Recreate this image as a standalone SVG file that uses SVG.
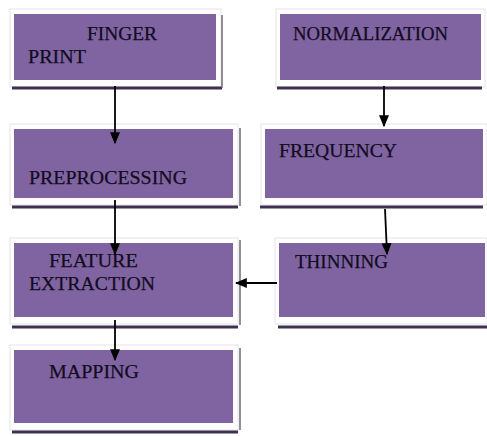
<svg xmlns="http://www.w3.org/2000/svg" width="487" height="436" viewBox="0 0 487 436">
<style>
.frame{fill:#ffffff;stroke:#e4e2e8;stroke-width:1}
.box{fill:#8064a2}
.shadow{stroke:#3f3151;stroke-width:3}
.side{stroke:#6d6a74;stroke-width:1.5}
.lbl{font-family:"Liberation Serif","Times New Roman",serif;font-size:19px;fill:#120c20;stroke:#120c20;stroke-width:0.25}
.conn{stroke:#000;stroke-width:1.8;fill:none}
</style>
<defs>
<marker id="ah" viewBox="0 0 10 10" refX="9" refY="5" markerWidth="12" markerHeight="10" markerUnits="userSpaceOnUse" orient="auto" preserveAspectRatio="none">
<path d="M0,0 L10,5 L0,10 z" fill="#000"/>
</marker>
</defs>
<rect width="487" height="436" fill="#ffffff"/>
<g id="finger-print">
<rect class="frame" x="10" y="9" width="211" height="78"/>
<rect class="box" x="14" y="14" width="202" height="66"/>
<line class="shadow" x1="12" y1="88" x2="222" y2="88"/>
<line class="side" x1="222" y1="15" x2="222" y2="88"/>
<text class="lbl" x="87" y="40" textLength="70" lengthAdjust="spacingAndGlyphs">FINGER</text>
<text class="lbl" x="28" y="63" textLength="58" lengthAdjust="spacingAndGlyphs">PRINT</text>
</g>
<g id="normalization">
<rect class="frame" x="276" y="9" width="209" height="78"/>
<rect class="box" x="280" y="14" width="201" height="66"/>
<line class="shadow" x1="277" y1="88" x2="482" y2="88"/>
<text class="lbl" x="293" y="40" textLength="155" lengthAdjust="spacingAndGlyphs">NORMALIZATION</text>
</g>
<g id="preprocessing">
<rect class="frame" x="10" y="124" width="228" height="81"/>
<rect class="box" x="14" y="129" width="219" height="69"/>
<line class="shadow" x1="12" y1="207" x2="238" y2="207"/>
<line class="side" x1="240" y1="128" x2="240" y2="206"/>
<text class="lbl" x="29" y="184" textLength="158" lengthAdjust="spacingAndGlyphs">PREPROCESSING</text>
</g>
<g id="frequency">
<rect class="frame" x="261" y="124" width="226" height="81"/>
<rect class="box" x="265" y="129" width="218" height="69"/>
<line class="shadow" x1="260" y1="207" x2="483" y2="207"/>
<text class="lbl" x="279" y="157" textLength="118" lengthAdjust="spacingAndGlyphs">FREQUENCY</text>
</g>
<g id="feature-extraction">
<rect class="frame" x="10" y="238" width="228" height="86"/>
<rect class="box" x="14" y="243" width="219" height="74"/>
<line class="shadow" x1="12" y1="327" x2="238" y2="327"/>
<line class="side" x1="240" y1="240" x2="240" y2="325"/>
<text class="lbl" x="49" y="267" textLength="89" lengthAdjust="spacingAndGlyphs">FEATURE</text>
<text class="lbl" x="29" y="290" textLength="126" lengthAdjust="spacingAndGlyphs">EXTRACTION</text>
</g>
<g id="thinning">
<rect class="frame" x="275" y="238" width="212" height="86"/>
<rect class="box" x="279" y="243" width="206" height="74"/>
<line class="shadow" x1="278" y1="327" x2="487" y2="327"/>
<text class="lbl" x="295" y="268" textLength="93" lengthAdjust="spacingAndGlyphs">THINNING</text>
</g>
<g id="mapping">
<rect class="frame" x="10" y="345" width="228" height="85"/>
<rect class="box" x="14" y="350" width="219" height="73"/>
<line class="shadow" x1="12" y1="432" x2="238" y2="432"/>
<line class="side" x1="240" y1="348" x2="240" y2="430"/>
<text class="lbl" x="49" y="378" textLength="90" lengthAdjust="spacingAndGlyphs">MAPPING</text>
</g>
<g id="connectors">
<line class="conn" x1="115" y1="86" x2="115" y2="143" marker-end="url(#ah)"/>
<line class="conn" x1="384" y1="86" x2="384" y2="126" marker-end="url(#ah)"/>
<line class="conn" x1="115" y1="200" x2="115" y2="254" marker-end="url(#ah)"/>
<line class="conn" x1="385" y1="209" x2="387" y2="254" marker-end="url(#ah)"/>
<line class="conn" x1="277" y1="283" x2="236" y2="283" marker-end="url(#ah)"/>
<line class="conn" x1="115" y1="320" x2="115" y2="360" marker-end="url(#ah)"/>
</g>
</svg>
